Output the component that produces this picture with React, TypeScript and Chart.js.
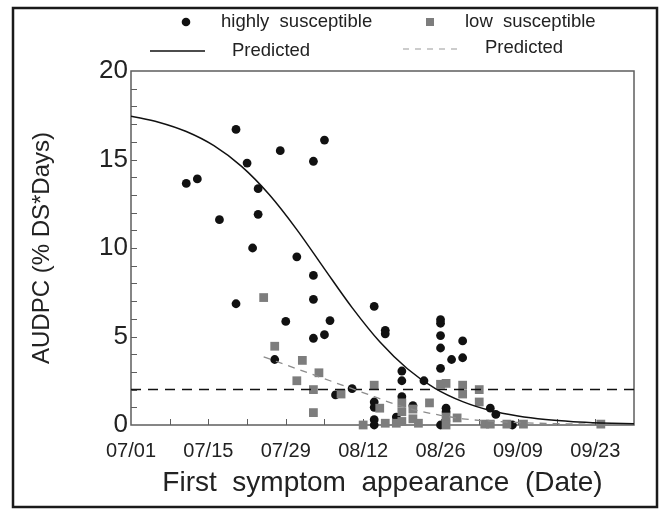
import { useEffect, useRef } from 'react';
import { Chart, registerables } from 'chart.js';

Chart.register(...registerables);

// Days are counted from 07/01 (day 0).
const xTickDays = [0, 14, 28, 42, 56, 70, 84];
const xTickLabels = ['07/01', '07/15', '07/29', '08/12', '08/26', '09/09', '09/23'];
const xMax = 91;

// Highly susceptible cultivars: first symptom day and AUDPC
const highDays = [
  10, 12, 16, 19, 19, 21, 22, 23, 23, 26, 27, 28, 30, 33, 33, 33, 33, 35, 35, 36, 37, 40,
  44, 44, 44, 44, 44, 46, 46, 48, 49, 49, 49, 51, 53, 56, 56, 56, 56, 56, 56, 57, 57, 58,
  60, 60, 65, 66, 69,
];
const highAudpc = [
  13.65, 13.9, 11.6, 16.7, 6.85, 14.8, 10.0, 13.35, 11.9, 3.7, 15.5, 5.85, 9.5, 14.9, 8.45,
  7.1, 4.9, 16.1, 5.1, 5.9, 1.7, 2.05, 6.7, 1.3, 1.0, 0.3, 0, 5.35, 5.15, 0.45, 3.05, 2.5,
  1.6, 1.1, 2.5, 5.95, 5.75, 5.05, 4.35, 3.2, 0, 0.95, 0.75, 3.7, 4.75, 3.8, 0.95, 0.6, 0,
];

// Low susceptible cultivars
const lowDays = [
  24, 26, 30, 31, 33, 33, 34, 38, 42, 44, 45, 46, 48, 49, 49, 49, 51, 51, 52, 54, 56, 57,
  57, 57, 59, 60, 60, 63, 63, 64, 65, 68, 71, 85,
];
const lowAudpc = [
  7.2, 4.45, 2.5, 3.65, 2.0, 0.7, 2.95, 1.75, 0, 2.25, 0.95, 0.1, 0.1, 1.25, 0.75, 0.2, 0.9,
  0.35, 0.1, 1.25, 2.3, 2.35, 0.45, 0, 0.4, 2.25, 1.75, 2.0, 1.3, 0.05, 0.05, 0.05, 0.05, 0.05,
];

// Predicted AUDPC, highly susceptible
const highPredDays = [0, 5, 10, 15, 20, 25, 30, 35, 40, 45, 50, 55, 60, 65, 70, 75, 80, 85, 91];
const highPredAudpc = [
  17.45, 17.11, 16.58, 15.78, 14.61, 13.02, 11.04, 8.82, 6.63, 4.7, 3.18, 2.07, 1.32, 0.82,
  0.51, 0.31, 0.19, 0.12, 0.07,
];

// Predicted AUDPC, low susceptible
const lowPredDays = [24, 28, 32, 36, 40, 44, 48, 52, 56, 60, 65, 70, 75, 80, 84];
const lowPredAudpc = [3.85, 3.4, 2.95, 2.5, 2.05, 1.6, 1.15, 0.8, 0.55, 0.35, 0.22, 0.14, 0.09, 0.06, 0.05];

// Threshold line
const thresholdDays = [0, xMax];
const thresholdAudpc = [2, 2];

const FONT = '"Liberation Sans", Arial, sans-serif';
const TEXT = '#222222';
const AXIS = '#5e5e5e';
const GRAY = '#7d7d7d';

const pts = (xs: number[], ys: number[]) => xs.map((x, i) => ({ x, y: ys[i] }));

const decorPlugin = {
  id: 'decor',
  beforeDatasetsDraw(chart: any) {
    const { ctx, chartArea: a, scales } = chart;
    const x = scales.x;
    const y = scales.y;
    ctx.save();
    ctx.strokeStyle = AXIS;
    ctx.lineWidth = 1.5;
    ctx.strokeRect(a.left, a.top, a.right - a.left, a.bottom - a.top);
    ctx.lineWidth = 1;
    ctx.beginPath();
    for (let d = 7; d < xMax; d += 7) {
      const px = Math.round(x.getPixelForValue(d)) + 0.5;
      ctx.moveTo(px, a.bottom);
      ctx.lineTo(px, a.bottom - 6);
    }
    for (let v = 1; v < 20; v += 1) {
      const py = Math.round(y.getPixelForValue(v)) + 0.5;
      ctx.moveTo(a.left, py);
      ctx.lineTo(a.left + 6, py);
    }
    ctx.stroke();
    ctx.restore();
  },
  afterDraw(chart: any) {
    const { ctx } = chart;
    ctx.save();
    // outer frame
    ctx.strokeStyle = '#1a1a1a';
    ctx.lineWidth = 2.5;
    ctx.strokeRect(13, 8, 644, 499);

    // legend
    ctx.font = `18.5px ${FONT}`;
    ctx.fillStyle = TEXT;
    ctx.textBaseline = 'middle';
    ctx.textAlign = 'left';
    ctx.fillText('highly  susceptible', 221, 22);
    ctx.fillText('low  susceptible', 465, 22);
    ctx.fillText('Predicted', 232, 51);
    ctx.fillText('Predicted', 485, 48);

    ctx.fillStyle = '#111';
    ctx.beginPath();
    ctx.arc(186, 22, 4.3, 0, Math.PI * 2);
    ctx.fill();
    ctx.fillStyle = GRAY;
    ctx.fillRect(426, 18, 8, 8);

    ctx.strokeStyle = '#111';
    ctx.lineWidth = 1.5;
    ctx.beginPath();
    ctx.moveTo(150, 51);
    ctx.lineTo(205, 51);
    ctx.stroke();

    ctx.strokeStyle = '#9a9a9a';
    ctx.lineWidth = 1.2;
    ctx.setLineDash([6, 6]);
    ctx.beginPath();
    ctx.moveTo(403, 49);
    ctx.lineTo(458, 49);
    ctx.stroke();
    ctx.restore();
  },
};

export default function App() {
  const ref = useRef<HTMLCanvasElement | null>(null);

  useEffect(() => {
    if (!ref.current) return;
    const chart = new Chart(ref.current, {
      type: 'scatter',
      data: {
        datasets: [
          {
            label: 'low susceptible',
            data: pts(lowDays, lowAudpc),
            pointStyle: 'rect',
            pointRadius: 6.2,
            pointBackgroundColor: GRAY,
            pointBorderWidth: 0,
            clip: false,
            order: 1,
          } as any,
          {
            label: 'highly susceptible',
            data: pts(highDays, highAudpc),
            pointStyle: 'circle',
            pointRadius: 4.4,
            pointBackgroundColor: '#111111',
            pointBorderWidth: 0,
            clip: false,
            order: 2,
          },
          {
            type: 'line',
            label: 'Predicted',
            data: pts(highPredDays, highPredAudpc),
            borderColor: '#111111',
            borderWidth: 1.5,
            pointRadius: 0,
            cubicInterpolationMode: 'monotone',
            order: 0,
          } as any,
          {
            type: 'line',
            label: 'Predicted (low)',
            data: pts(lowPredDays, lowPredAudpc),
            borderColor: '#8c8c8c',
            borderWidth: 1.3,
            borderDash: [7, 6],
            pointRadius: 0,
            cubicInterpolationMode: 'monotone',
            order: 0,
          } as any,
          {
            type: 'line',
            label: 'threshold',
            data: pts(thresholdDays, thresholdAudpc),
            borderColor: '#111111',
            borderWidth: 1.5,
            borderDash: [10, 7],
            pointRadius: 0,
            order: 0,
          } as any,
        ],
      },
      options: {
        responsive: false,
        animation: false,
        events: [],
        layout: { padding: { left: 0, top: 71, right: 26, bottom: 0 } },
        plugins: { legend: { display: false }, tooltip: { enabled: false } },
        scales: {
          x: {
            type: 'linear',
            min: 0,
            max: xMax,
            afterBuildTicks: (s: any) => {
              const t = [];
              for (let d = 0; d <= xMax; d += 7) t.push({ value: d });
              s.ticks = t;
            },
            afterFit: (s: any) => {
              s.height = 84;
            },
            grid: { display: false, drawTicks: false },
            border: { display: false },
            ticks: {
              autoSkip: false,
              maxRotation: 0,
              padding: 14,
              color: TEXT,
              font: { family: FONT, size: 20 },
              callback: (v: any) => {
                const i = xTickDays.indexOf(Number(v));
                return i >= 0 ? xTickLabels[i] : '';
              },
            },
            title: {
              display: true,
              text: 'First  symptom  appearance  (Date)',
              color: TEXT,
              font: { family: FONT, size: 28 },
              padding: { top: 0, bottom: 9 },
            },
          },
          y: {
            min: 0,
            max: 20,
            afterFit: (s: any) => {
              s.width = 131;
            },
            grid: { display: false, drawTicks: false },
            border: { display: false },
            ticks: {
              stepSize: 5,
              padding: 3,
              color: TEXT,
              font: { family: FONT, size: 26 },
            },
            title: {
              display: true,
              text: 'AUDPC (% DS*Days)',
              color: TEXT,
              font: { family: FONT, size: 24 },
              padding: { top: 28, bottom: 0 },
            },
          },
        },
      },
      plugins: [decorPlugin],
    });
    return () => chart.destroy();
  }, []);

  return (
    <div style={{ position: 'absolute', left: 0, top: 0, width: 660, height: 509, background: '#fff' }}>
      <canvas ref={ref} width={660} height={509} style={{ display: 'block' }} />
    </div>
  );
}
